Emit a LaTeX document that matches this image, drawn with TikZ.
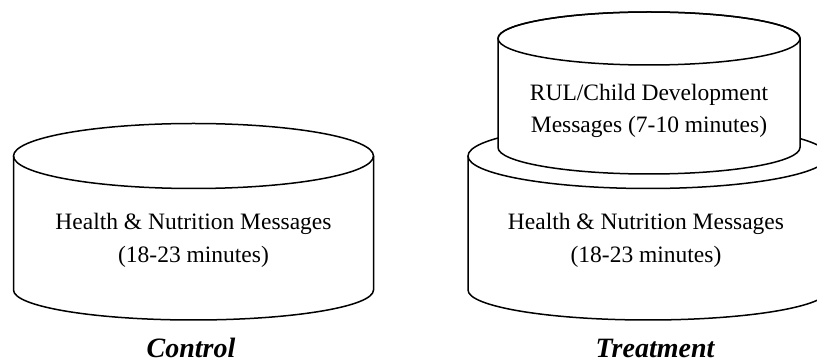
\documentclass[tikz,border=0pt]{standalone}
\usepackage{fontspec}
\setmainfont{Liberation Serif}
\usetikzlibrary{calc}

\begin{document}
\begin{tikzpicture}[x=1pt,y=1pt,line width=1.5pt,
  msg/.style={align=center,font=\fontsize{23.5}{33}\selectfont},
  grp/.style={font=\fontsize{28}{30}\selectfont\bfseries\itshape}]
  \useasboundingbox (0,0) rectangle (817,364);
  \clip (0,0) rectangle (817,364);
  % control cylinder
  \draw (193.5,208) ellipse[x radius=180,y radius=32.5];
  \draw (13.5,208)--(13.5,74) arc[start angle=180,end angle=360,x radius=180,y radius=30]--(373.5,208);
  \node[msg] (ctrlmsg) at (193.5,124){Health \& Nutrition Messages\\(18-23 minutes)};
  \node[grp] (ctrl) at (191,16){Control};
  % treatment, lower cylinder
  \draw (648,208) ellipse[x radius=180,y radius=32.5];
  \draw (468,208)--(468,74) arc[start angle=180,end angle=360,x radius=180,y radius=30]--(828,208);
  \node[msg] (trtmsg) at (646,124){Health \& Nutrition Messages\\(18-23 minutes)};
  % treatment, upper cylinder
  \filldraw[fill=white] (498,325.5)--(498,216.5) arc[start angle=180,end angle=360,x radius=151,y radius=26.5]
    --(800,325.5) arc[start angle=0,end angle=180,x radius=151,y radius=26.5]--cycle;
  \draw (649,325.5) ellipse[x radius=151,y radius=26.5];
  \node[msg,font=\fontsize{23.5}{32}\selectfont] (rulmsg) at (649,253){RUL/Child Development\\Messages (7-10 minutes)};
  \node[grp] (trt) at (655,16){Treatment};
\end{tikzpicture}
\end{document}
